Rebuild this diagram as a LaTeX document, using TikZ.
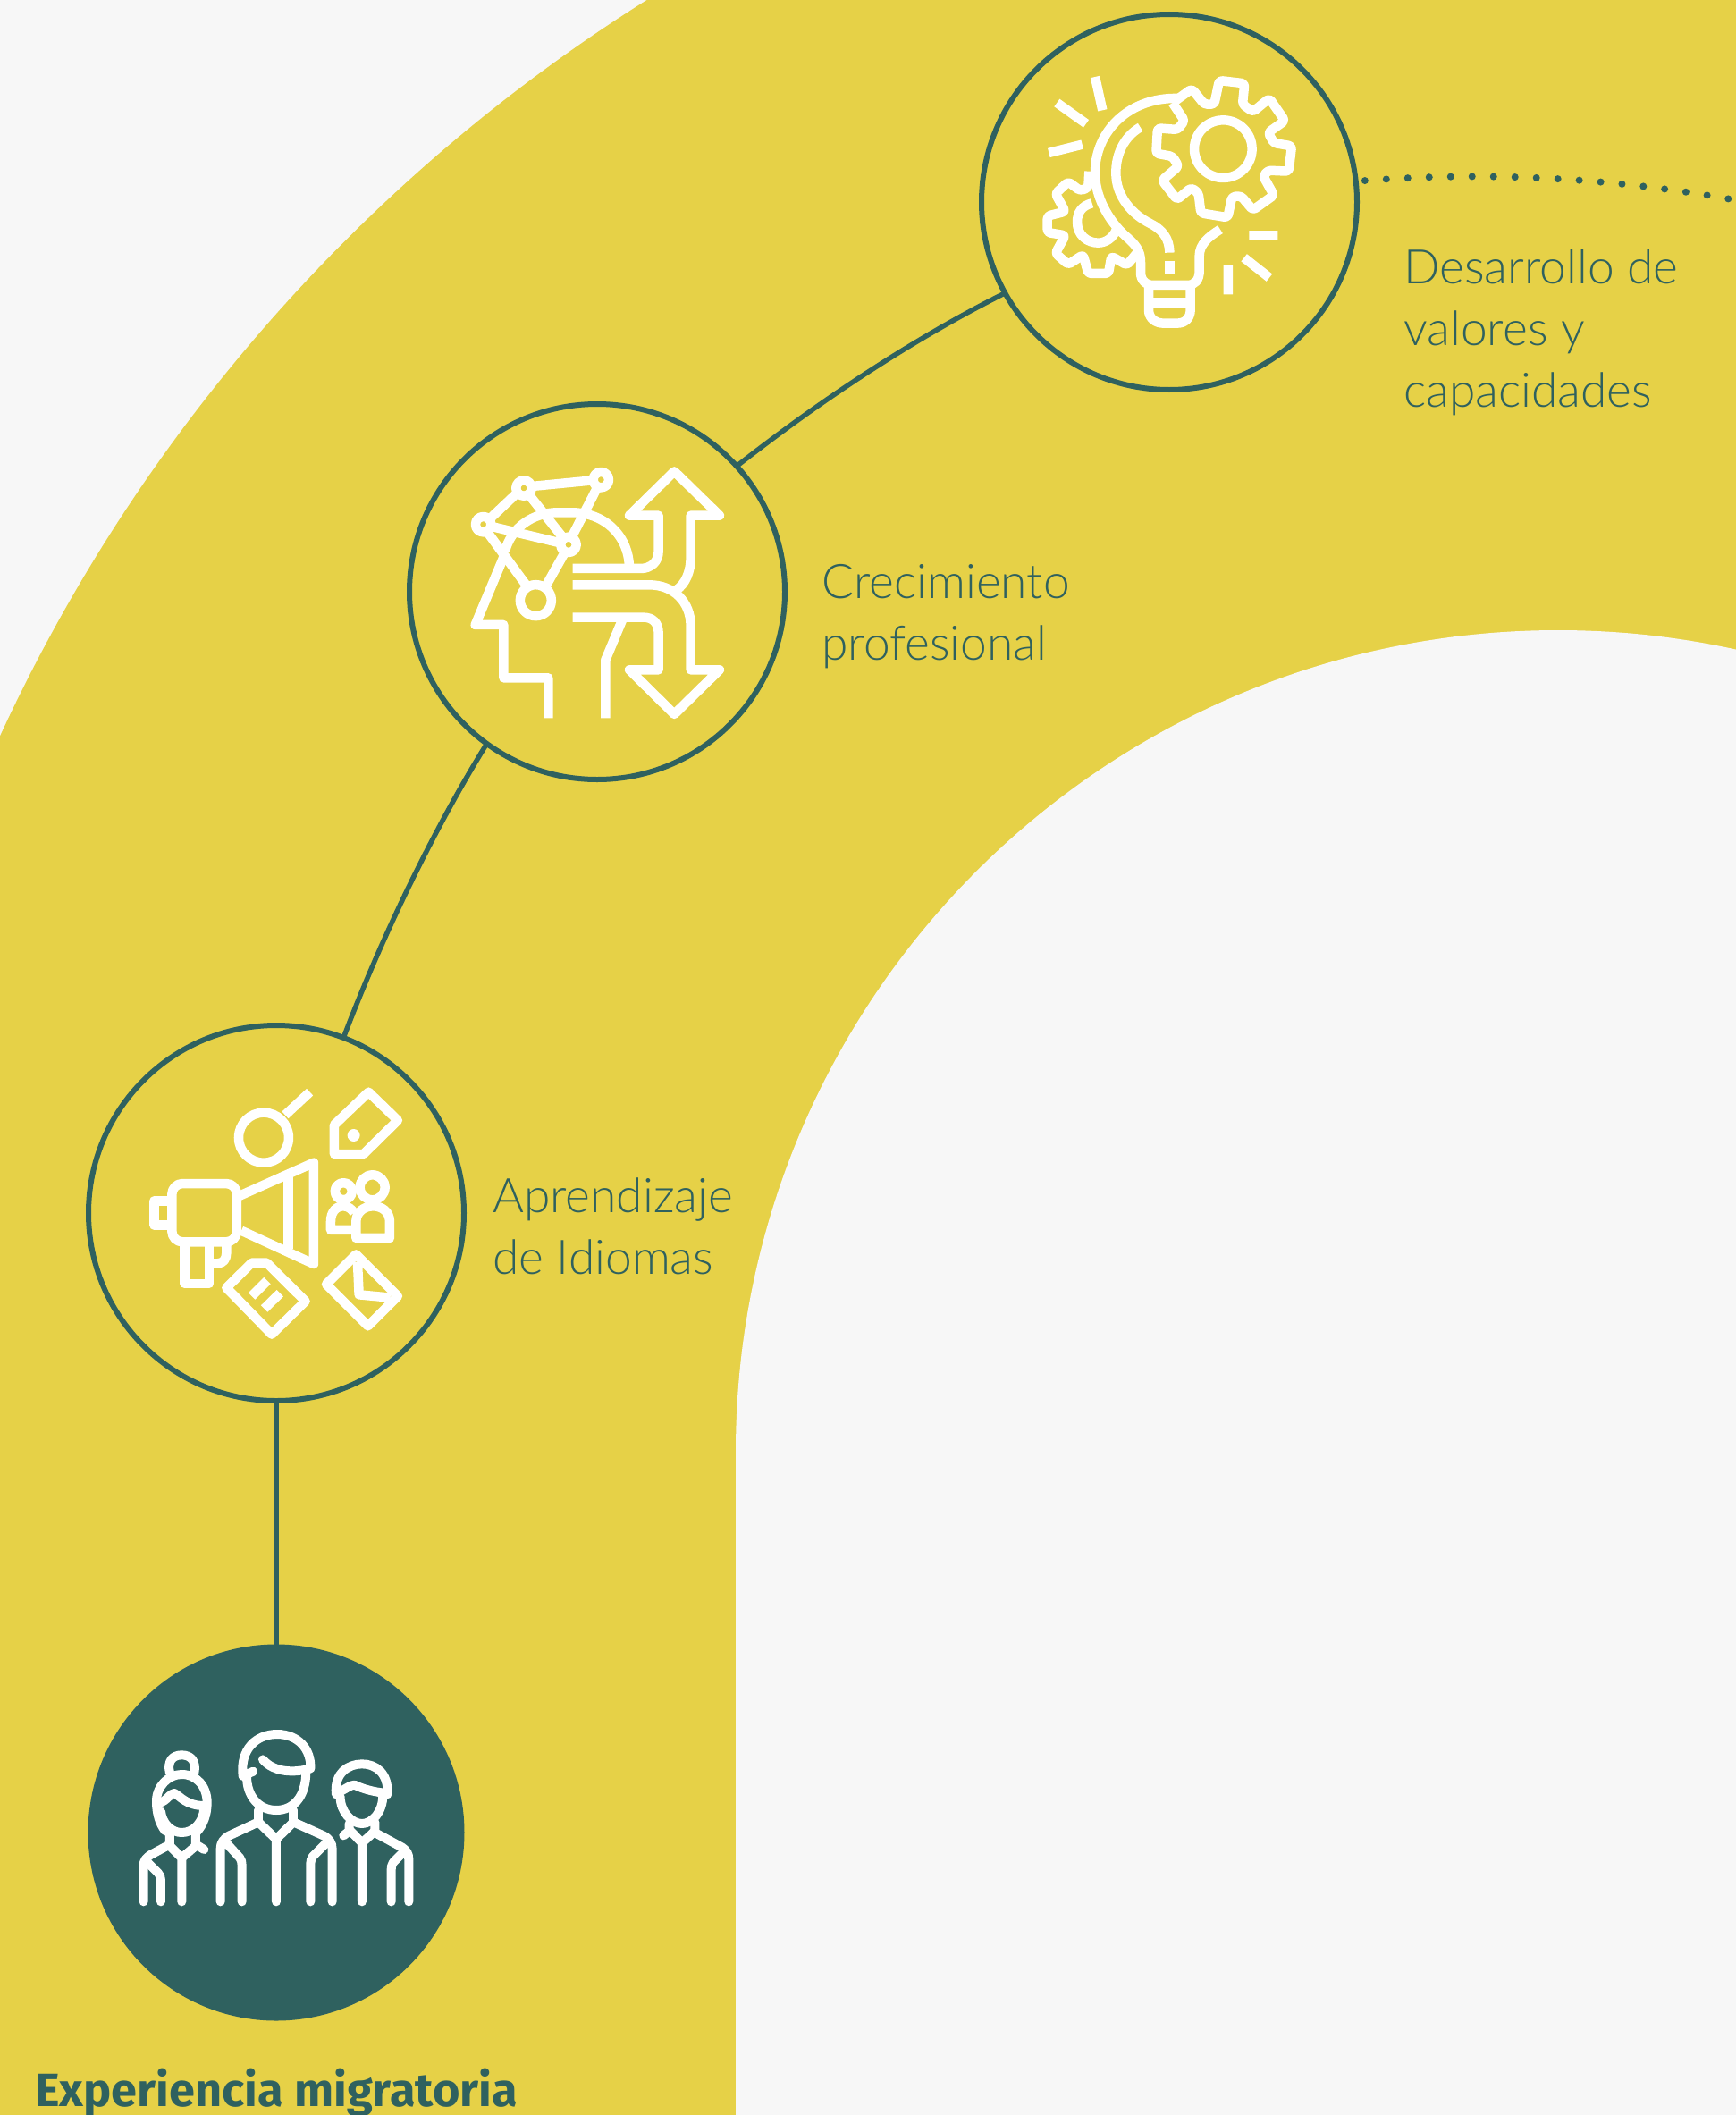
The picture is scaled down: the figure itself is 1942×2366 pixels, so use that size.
\documentclass[tikz,border=0pt]{standalone}
\usepackage{fontspec}
\setmainfont{Lato Light}
\newfontfamily\boldf{Fira Sans Bold}
\usetikzlibrary{calc}
\definecolor{bgc}{HTML}{F7F7F7}
\definecolor{band}{HTML}{E6D147}
\definecolor{teal}{HTML}{2F615F}
\tikzset{
  ring/.style={circle,draw=teal,line width=6pt,fill=band,minimum size=420pt,inner sep=0pt,outer sep=0pt},
  darkring/.style={circle,fill=teal,minimum size=421pt,inner sep=0pt,outer sep=0pt},
  link/.style={draw=teal,line width=5.5pt},
  lab/.style={text=teal,align=left,anchor=west,inner sep=0pt,font=\fontsize{53.3}{69}\selectfont},
  ico/.style={draw=white,line width=10.5pt,line join=round,fill=none},
  icor/.style={draw=white,line width=10pt,line join=round,line cap=round,fill=none},
}
\begin{document}
\begin{tikzpicture}[x=1pt,y=-1pt]
\useasboundingbox (0,0) rectangle (1942,2366);
\begin{scope}
\clip (0,0) rectangle (1942,2366);
\fill[bgc] (0,0) rectangle (1942,2366);
\fill[band] (1743,1625) circle[radius=1918pt];
\fill[bgc] (1743,1625) circle[radius=920pt];
\fill[bgc] (823,1625) rectangle (1942,2366);
\end{scope}
% nodes
\node[ring] (c1) at (1308,226) {};
\node[ring] (c2) at (668,662) {};
\node[ring] (c3) at (309,1357) {};
\node[darkring] (c4) at (309,2050) {};
\coordinate (dotend) at (1942,224);
% connectors
\draw[link] (c3.south) -- (c4.north);
\draw[link] (c3.69.5) .. controls (430,1040) and (490,920) .. (c2.234);
\draw[link] (c2.42) .. controls (915,450) and (1020,380) .. (c1.209.5);
\draw[teal,line width=8pt,line cap=round,dash pattern=on 0pt off 24pt] ($(c1.6)+(10,-2)$) .. controls (1660,192) and (1800,198) .. (dotend);
% labels
\node[lab] (t1) at (1570,372) {Desarrollo de\\valores y\\capacidades};
\node[lab] (t2) at (919,690) {Crecimiento\\profesional};
\node[lab] (t3) at (551,1372) {Aprendizaje\\de Idiomas};
\node[text=teal,anchor=base west,inner sep=0pt,font=\boldf\fontsize{52.3}{60}\selectfont] (t4) at (39,2356) {Experiencia migratoria};
% bulb icon
\begin{scope}[shift={(1130,60)},x=0.3333pt,y=-0.3333pt]
\draw[ico] (285,78)--(310,190) (157,165)--(255,235) (130,333)--(242,305) (802,610)--(898,610) (785,685)--(870,752) (732,710)--(732,808);
\draw[ico] (565,150) .. controls (400,145) and (285,260) .. (285,400) .. controls (285,480) and (330,560) .. (385,610) .. controls (420,640) and (438,660) .. (438,700) -- (438,735) .. controls (438,760) and (455,777) .. (480,777) -- (595,777) .. controls (620,777) and (635,760) .. (635,730) -- (635,680) .. controls (635,640) and (665,615) .. (705,590);
\draw[ico] (465,777) -- (465,860) .. controls (465,890) and (490,905) .. (515,905) -- (560,905) .. controls (590,905) and (605,885) .. (605,860) -- (605,777);
\draw[ico] (465,835)--(605,835);
\draw[ico] (437,247) .. controls (380,280) and (355,340) .. (355,400) .. controls (355,480) and (410,540) .. (470,570) .. controls (510,590) and (535,620) .. (535,668);
\draw[ico] (535,695)--(535,738);
\draw[ico] (715,320) circle[radius=32.3pt];
\draw[ico,rounded corners=3.5pt] (545,165)--(610,118)--(652,170)--(685,170)--(702,90)--(787,100)--(780,170)--(815,195)--(870,150)--(922,225)--(866,265)--(885,300)--(945,310)--(935,395)--(865,392)--(850,412)--(885,475)--(815,525)--(775,478)--(745,480)--(730,550)--(640,535)--(632,468)--(608,450)--(560,490)--(510,425)--(565,378)--(545,345)--(490,335)--(495,250)--(562,255)--(585,225)--(545,165);
\draw[ico] (275,502) .. controls (240,510) and (225,535) .. (225,565) .. controls (225,610) and (260,635) .. (295,635) .. controls (320,635) and (345,620) .. (357,590);
\draw[ico,rounded corners=3.5pt] (265,395)--(262,450)--(235,460)--(195,430)--(152,470)--(185,530)--(125,545)--(125,600)--(185,610)--(152,670)--(195,708)--(245,675)--(262,738)--(330,738)--(340,680)--(392,710)--(425,670);
\end{scope}
% head icon
\begin{scope}[shift={(500,500)},x=0.3333pt,y=-0.3333pt]
\draw[ico] (190,370)--(95,597)--(190,597)--(190,775)--(340,775)--(340,910);
\foreach \p in {(258,138),(517,110),(122,260),(408,328)} \draw[ico] \p circle[radius=8.7pt];
\draw[ico] (298,515) circle[radius=17.5pt];
\draw[ico] (285,132)--(490,112) (235,155)--(145,240) (275,160)--(390,305) (150,267)--(380,322) (505,135)--(420,300) (135,285)--(272,472) (395,355)--(330,470);
\draw[ico] (195,350) .. controls (215,270) and (290,220) .. (370,220) -- (420,220) .. controls (530,220) and (612,300) .. (612,408);
\draw[ico] (422,408) -- (650,408) .. controls (685,408) and (710,385) .. (710,350) -- (710,230) -- (612,230) -- (763,82) -- (915,230) -- (818,230) -- (818,370) .. controls (818,420) and (800,460) .. (770,480);
\draw[ico] (422,463) -- (680,463) .. controls (760,463) and (818,520) .. (818,600) -- (818,748) -- (915,748) -- (763,897) -- (612,748) -- (710,748) -- (710,625) .. controls (710,590) and (690,572) .. (660,572) -- (422,572);
\draw[ico] (592,572)--(532,715)--(532,910);
\end{scope}
% megaphone icon
\begin{scope}[shift={(150,1190)},x=0.3333pt,y=-0.3333pt]
\draw[ico] (435,248) circle[radius=28pt];
\draw[ico] (507,172)--(590,95);
\draw[ico] (787,95)--(885,190)--(770,303)--(672,303)--(672,205)--cycle;
\fill[white] (737,240) circle[radius=7pt];
\draw[ico,rounded corners=12pt] (127,402) rectangle (345,598);
\draw[ico] (350,445)--(603,332)--(603,672)--(360,560);
\draw[ico] (518,380)--(518,622);
\draw[ico] (112,460)--(68,460)--(68,542)--(112,542);
\draw[ico] (170,600)--(170,738)--(252,738)--(252,600);
\draw[ico] (252,670) -- (280,670) .. controls (300,670) and (310,655) .. (310,635) -- (310,600);
\draw[ico] (310,752)--(395,668)--(445,668)--(575,797)--(462,908)--cycle;
\draw[ico] (395,780)--(447,728) (437,822)--(490,770);
\draw[ico] (745,640)--(885,780)--(785,880)--(645,740)--cycle;
\draw[ico] (750,665)--(755,775)--(860,785);
\draw[ico] (800,415) circle[radius=14pt];
\draw[ico] (745,585)--(858,585)--(858,530) .. controls (858,495) and (830,478) .. (802,478) .. controls (770,478) and (745,500) .. (745,530) -- cycle;
\draw[ico] (703,428) circle[radius=9.5pt];
\draw[ico] (738,558)--(660,558)--(660,530) .. controls (660,495) and (680,478) .. (702,478) .. controls (720,478) and (730,488) .. (738,500);
\end{scope}
% people icon
\begin{scope}[shift={(140,1920)},x=0.3333pt,y=-0.3333pt]
% middle
\draw[icor] (430,185)--(395,200) .. controls (385,110) and (440,60) .. (510,60) .. controls (580,60) and (625,110) .. (622,175) .. controls (570,190) and (500,190) .. (462,145);
\draw[icor] (408,200) .. controls (408,270) and (450,315) .. (507,315) .. controls (565,315) and (607,270) .. (607,185);
\draw[icor] (447,315)--(447,355) (565,315)--(565,355);
\draw[icor] (447,355)--(507,412)--(565,355) (507,412)--(507,622);
\draw[icor] (447,355)--(350,400) .. controls (330,410) and (320,425) .. (320,445) -- (320,622);
\draw[icor] (565,355)--(665,400) .. controls (685,410) and (695,425) .. (695,445) -- (695,622);
\draw[icor] (335,420)--(385,475) .. controls (390,482) and (392,490) .. (392,500) -- (392,622);
\draw[icor] (680,420)--(630,470) .. controls (625,477) and (622,485) .. (622,495) -- (622,622);
% woman
\draw[icor] (150,190) .. controls (140,150) and (160,130) .. (190,130) .. controls (220,130) and (240,150) .. (232,190);
\draw[icor] (135,385) .. controls (115,360) and (105,325) .. (105,285) .. controls (105,235) and (145,195) .. (190,195) .. controls (240,195) and (275,235) .. (275,290) .. controls (275,330) and (262,365) .. (240,388);
\draw[icor] (120,320) .. controls (125,360) and (155,390) .. (190,390) .. controls (230,390) and (262,355) .. (265,310);
\draw[icor] (115,290) .. controls (140,285) and (150,258) .. (165,258) .. controls (185,268) and (205,300) .. (265,300);
\draw[icor] (150,385)--(150,430) (237,385)--(237,430)--(265,447);
\draw[icor] (150,435)--(190,475)--(237,435) (190,475)--(190,622);
\draw[icor] (150,430)--(85,465) .. controls (70,475) and (62,485) .. (62,500) -- (62,622);
\draw[icor] (75,490)--(110,525) .. controls (117,533) and (120,540) .. (120,550) -- (120,622);
% boy
\draw[icor] (708,262) .. controls (700,190) and (750,160) .. (795,160) .. controls (840,160) and (885,190) .. (880,262);
\draw[icor] (715,255) .. controls (740,245) and (755,230) .. (770,230) .. controls (800,245) and (840,255) .. (880,258);
\draw[icor] (722,270) .. controls (722,320) and (760,360) .. (795,360) .. controls (830,360) and (865,320) .. (865,265);
\draw[icor] (752,360)--(752,385)--(733,400) (838,355)--(838,392);
\draw[icor] (752,380)--(795,425)--(838,385) (795,425)--(795,622);
\draw[icor] (838,390)--(930,440) .. controls (945,450) and (952,462) .. (952,480) -- (952,622);
\draw[icor] (935,455)--(900,490) .. controls (895,497) and (893,505) .. (893,515) -- (893,622);
\end{scope}
\end{tikzpicture}
\end{document}
